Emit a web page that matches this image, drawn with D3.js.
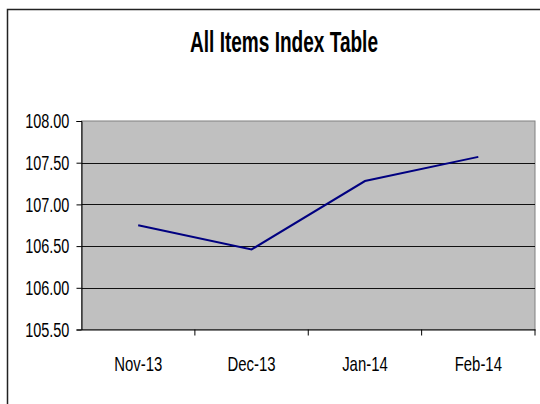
<!DOCTYPE html>
<html>
<head>
  <script src="https://d3js.org/d3.v7.min.js"></script>
  <style>
    body { margin: 0; background: #fff; }
    .lbl { font-family: "Liberation Sans", Arial, sans-serif; fill: #000; }
  </style>
</head>
<body>
  <svg width="540" height="404"></svg>
  <script>
    const months = ['Nov-13', 'Dec-13', 'Jan-14', 'Feb-14'];
    const indexValues = [106.75, 106.46, 107.28, 107.57];
    const yTicks = [105.5, 106, 106.5, 107, 107.5, 108];

    const svg = d3.select('svg');
    const plotL = 81.5, plotR = 535, plotT = 121, plotB = 329.5;

    // chart frame (only top and left edges visible)
    svg.append('path')
      .attr('d', 'M7.5,404 V9.5 H540')
      .attr('fill', 'none')
      .attr('stroke', '#222')
      .attr('stroke-width', 1.5);

    // the original uses a condensed face, so glyphs are squeezed horizontally
    svg.append('text')
      .attr('class', 'lbl')
      .attr('transform', 'translate(284,52) scale(0.635,1)')
      .attr('text-anchor', 'middle')
      .attr('font-size', 30)
      .attr('font-weight', 'bold')
      .text('All Items Index Table');

    const x = d3.scaleBand().domain(months).range([plotL, plotR]);
    const y = d3.scaleLinear().domain([105.5, 108]).range([plotB, plotT]);

    svg.append('rect')
      .attr('x', plotL).attr('y', plotT)
      .attr('width', plotR - plotL).attr('height', plotB - plotT)
      .attr('fill', '#c0c0c0')
      .attr('stroke', '#808080');

    svg.append('g')
      .selectAll('line')
      .data(yTicks.slice(1, -1))
      .join('line')
      .attr('x1', plotL).attr('x2', plotR)
      .attr('y1', d => Math.round(y(d)) + 0.5).attr('y2', d => Math.round(y(d)) + 0.5)
      .attr('stroke', '#111');

    const yAxis = svg.append('g')
      .attr('transform', `translate(${plotL},0)`)
      .call(d3.axisLeft(y).tickValues(yTicks).tickFormat(d3.format('.2f')).tickSize(5).tickPadding(12.5));
    yAxis.select('.domain').attr('stroke', '#000');
    yAxis.selectAll('text').attr('class', 'lbl').attr('font-size', 21)
      .attr('transform', 'scale(0.69,1)');

    const xAxis = svg.append('g')
      .attr('transform', `translate(0,${plotB})`)
      .call(d3.axisBottom(x).tickSize(0).tickPadding(27));
    xAxis.select('.domain').attr('stroke', '#000');
    xAxis.selectAll('text').attr('class', 'lbl').attr('font-size', 21)
      .attr('transform', 'scale(0.71,1)');
    // tick marks between categories
    xAxis.selectAll('.sep')
      .data(months.slice(1).map(m => x(m)).concat([plotR]))
      .join('line')
      .attr('x1', d => d).attr('x2', d => d)
      .attr('y1', 0).attr('y2', 6)
      .attr('stroke', '#000');

    const line = d3.line()
      .x((d, i) => x(months[i]) + x.bandwidth() / 2)
      .y(d => y(d));

    svg.append('path')
      .datum(indexValues)
      .attr('d', line)
      .attr('fill', 'none')
      .attr('stroke', '#000080')
      .attr('stroke-width', 2);
  </script>
</body>
</html>
